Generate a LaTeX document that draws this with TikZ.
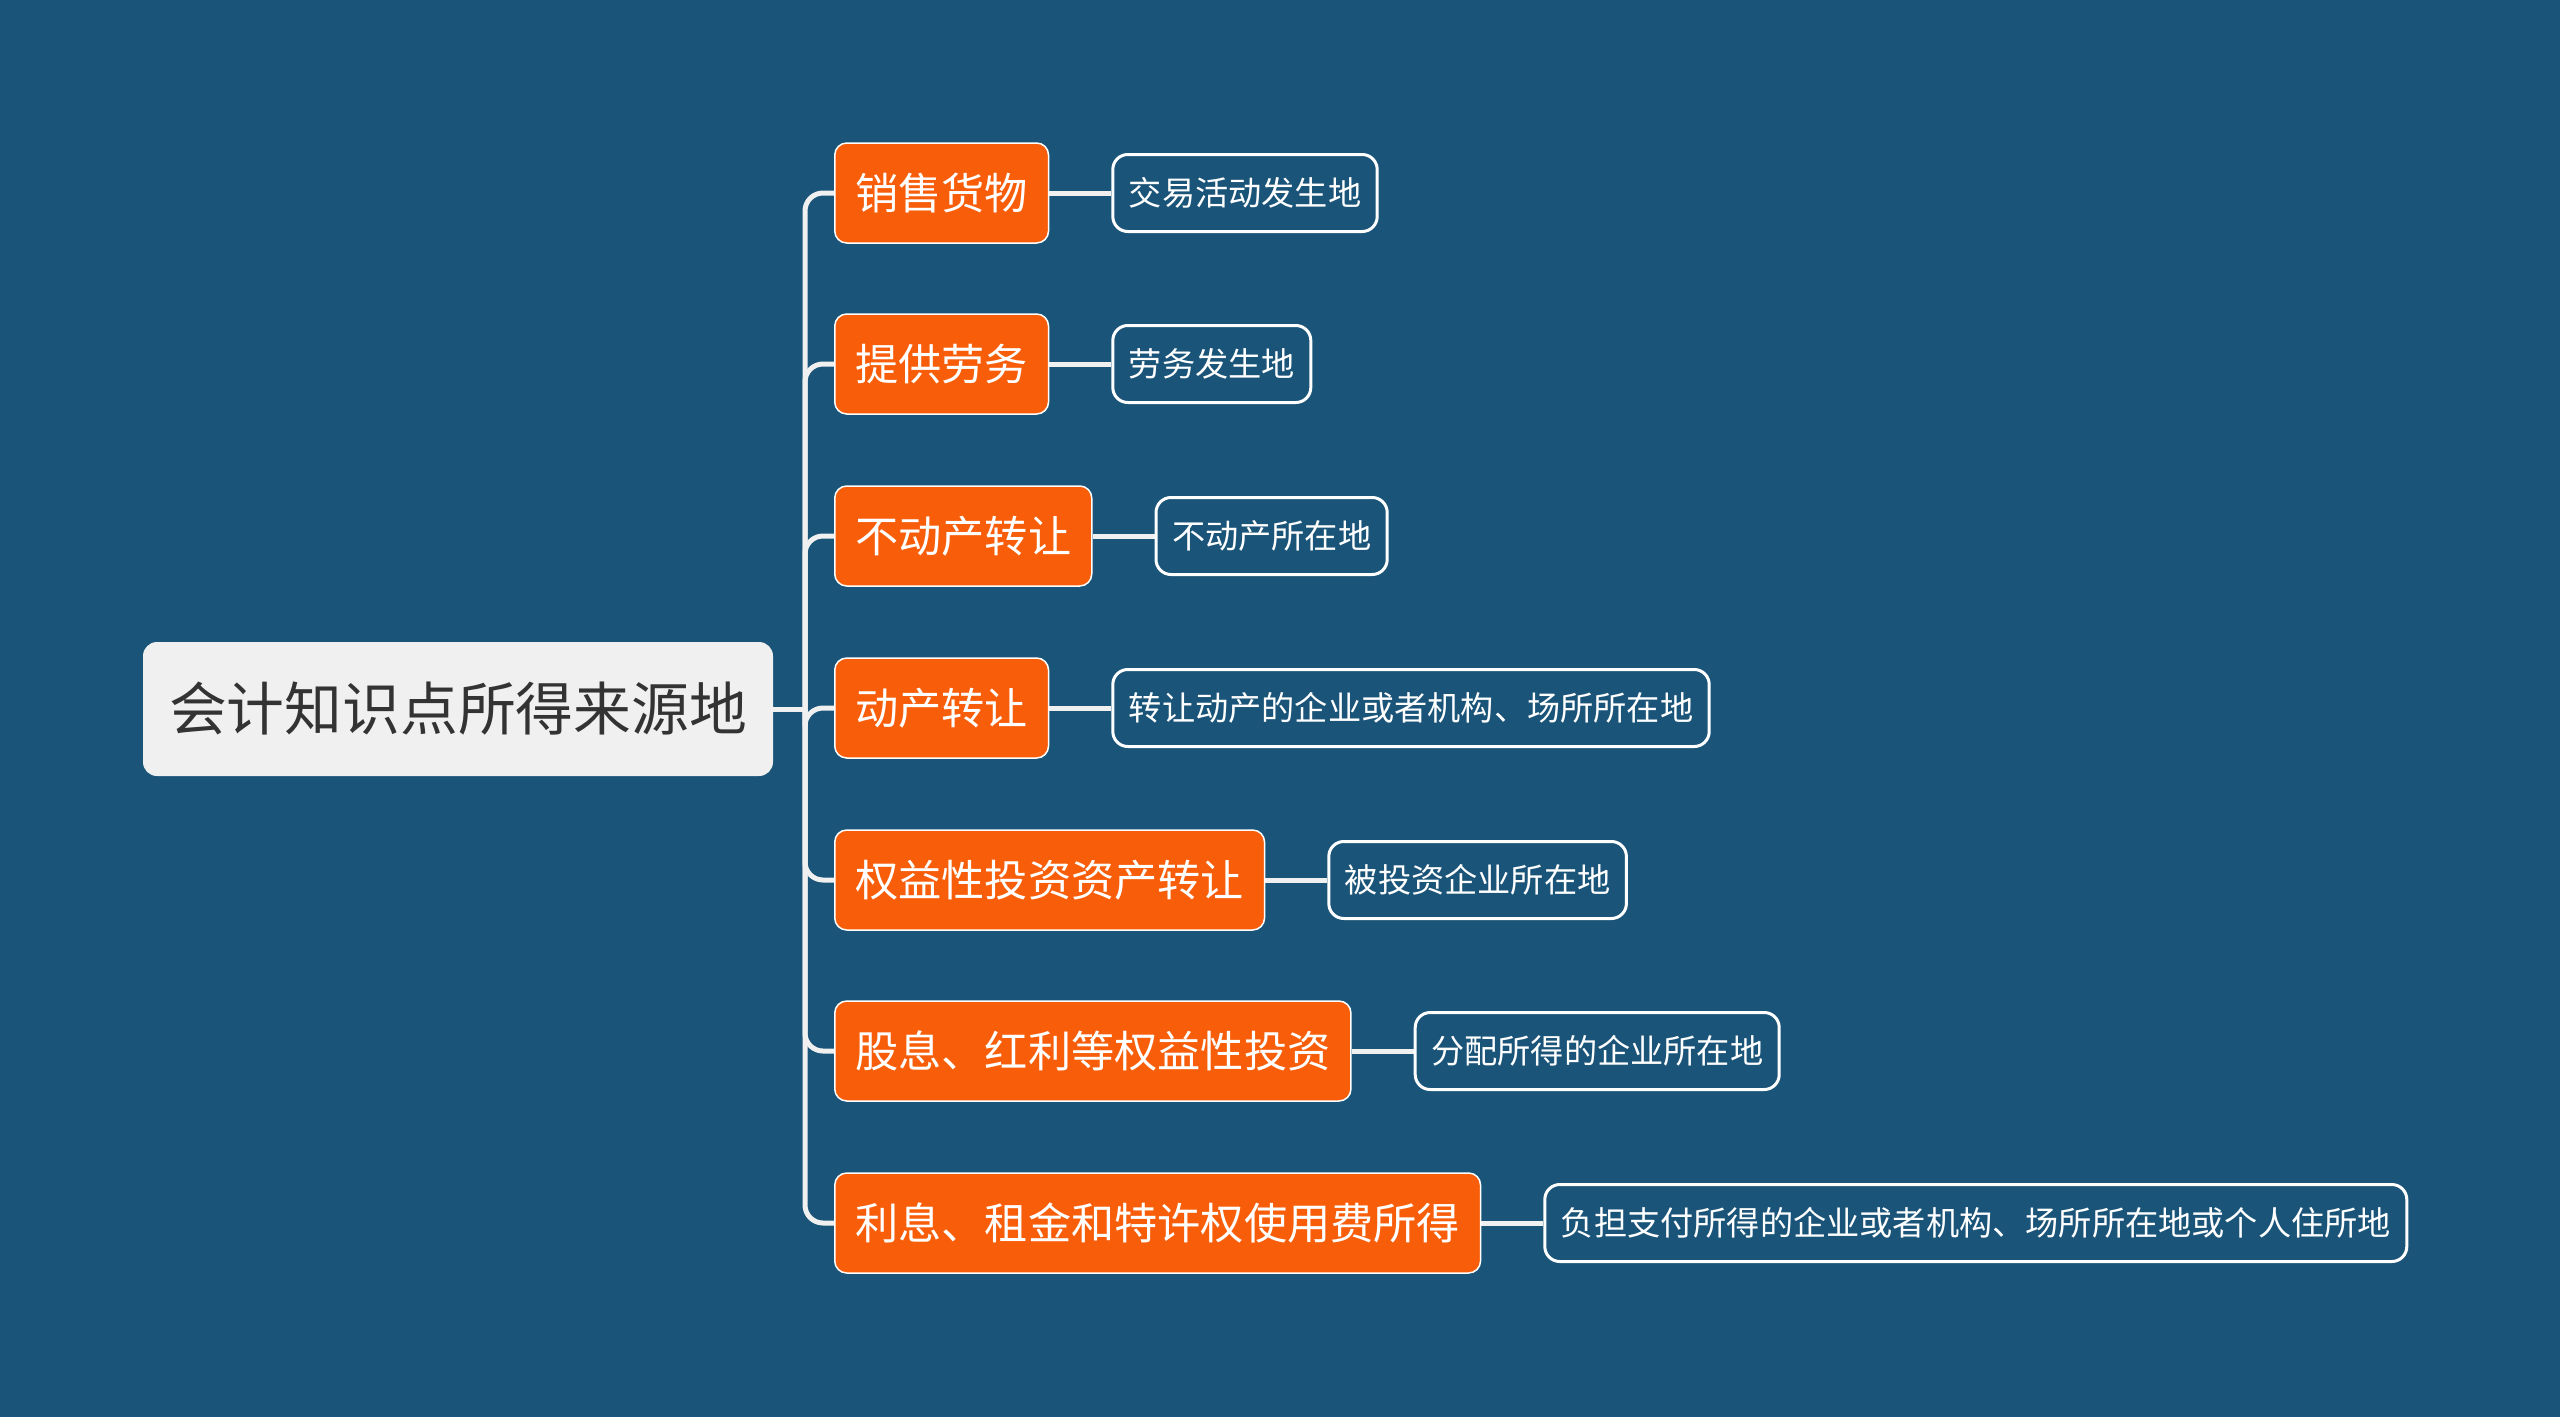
\documentclass[tikz,border=0pt]{standalone}
\usepackage{fontspec}
\setmainfont{Noto Sans CJK SC}
\definecolor{bg}{HTML}{1A5478}
\definecolor{org}{HTML}{F85E0A}
\definecolor{rootfill}{HTML}{F0F0F0}
\definecolor{roottext}{HTML}{333333}
\definecolor{line}{HTML}{F0F0F0}
\pgfdeclarelayer{back}
\pgfdeclarelayer{links}
\pgfsetlayers{back,links,main}
\tikzset{
  rootbox/.style={draw=none, fill=rootfill, rounded corners=14pt, minimum height=134pt, inner xsep=26pt, text=roottext, font=\fontsize{57.8}{68}\selectfont},
  l1box/.style={draw=white, line width=1.5pt, fill=org, rounded corners=12pt, minimum height=100pt, inner xsep=20.5pt, text=white, font=\fontsize{43.2}{52}\selectfont, anchor=west},
  l2box/.style={draw=white, line width=3pt, fill=bg, rounded corners=15pt, minimum height=77pt, inner xsep=16pt, text=white, font=\fontsize{33.2}{40}\selectfont, anchor=west},
  conn/.style={draw=line, line width=5pt},
}
\begin{document}
\begin{tikzpicture}[x=1pt,y=-1pt]
\begin{pgfonlayer}{back}
\fill[bg] (0,0) rectangle (2560,1417);
\end{pgfonlayer}
\useasboundingbox (0,0) rectangle (2560,1417);
\node[rootbox] (root) at (458,709) {会计知识点所得来源地};
\coordinate (T) at (805,709);
\node[l1box] (c1) at (834,193) {销售货物};
\node[l1box] (c2) at (834,364) {提供劳务};
\node[l1box] (c3) at (834,536) {不动产转让};
\node[l1box] (c4) at (834,708) {动产转让};
\node[l1box] (c5) at (834,880) {权益性投资资产转让};
\node[l1box] (c6) at (834,1051) {股息、红利等权益性投资};
\node[l1box] (c7) at (834,1223) {利息、租金和特许权使用费所得};
\node[l2box] (d1) at ([xshift=62pt]c1.east) {交易活动发生地};
\node[l2box] (d2) at ([xshift=62pt]c2.east) {劳务发生地};
\node[l2box] (d3) at ([xshift=62pt]c3.east) {不动产所在地};
\node[l2box] (d4) at ([xshift=62pt]c4.east) {转让动产的企业或者机构、场所所在地};
\node[l2box] (d5) at ([xshift=62pt]c5.east) {被投资企业所在地};
\node[l2box] (d6) at ([xshift=62pt]c6.east) {分配所得的企业所在地};
\node[l2box] (d7) at ([xshift=62pt]c7.east) {负担支付所得的企业或者机构、场所所在地或个人住所地};
\begin{pgfonlayer}{links}
\draw[conn] (root.east) -- (T);
\foreach \i in {1,2,3,4,5,6,7}{
  \draw[conn, rounded corners=18pt] (T) |- (c\i.west);
  \draw[conn] (c\i.east) -- (d\i.west);
}
\end{pgfonlayer}
\end{tikzpicture}
\end{document}
